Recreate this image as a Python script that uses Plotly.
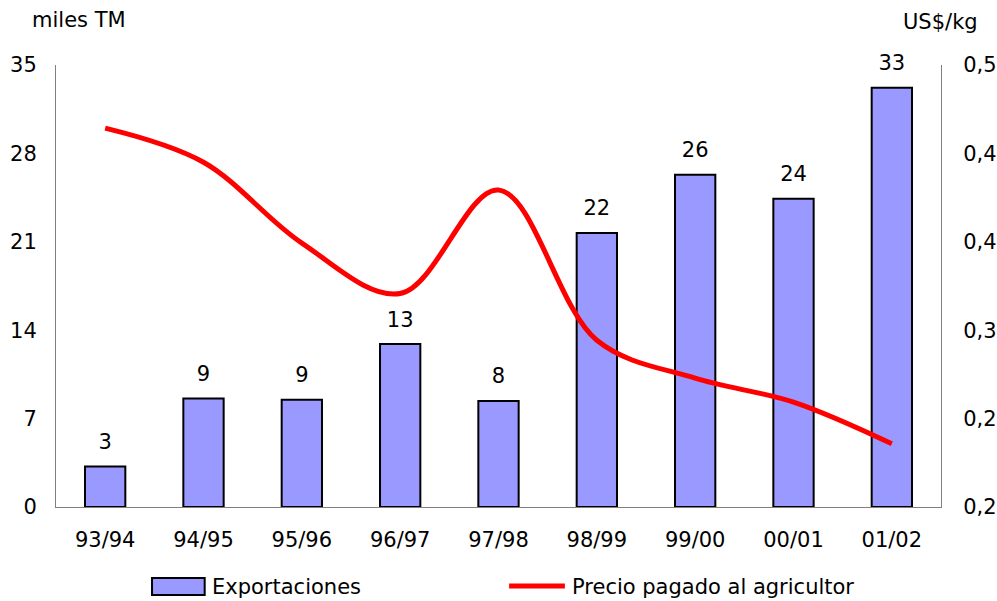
import plotly.graph_objects as go

# Campaign seasons
temporadas = ["93/94", "94/95", "95/96", "96/97", "97/98", "98/99", "99/00", "00/01", "01/02"]

# Exports, thousand tonnes
exportaciones = [3.2, 8.6, 8.5, 12.9, 8.4, 21.7, 26.3, 24.4, 33.2]

# Price paid to the farmer, US$/kg
precio = [0.450, 0.423, 0.359, 0.319, 0.401, 0.282, 0.252, 0.233, 0.200]

# Axis ticks
ticks_izq = [0, 7, 14, 21, 28, 35]
ticks_der = [0.15, 0.22, 0.29, 0.36, 0.43, 0.50]
ticks_der_txt = ["0,2", "0,2", "0,3", "0,4", "0,4", "0,5"]

FONT = "DejaVu Sans"
FS = 21
BAR_COLOR = "#9999FF"
LINE_COLOR = "#FF0000"

fig = go.Figure()

fig.add_trace(go.Bar(
    x=temporadas,
    y=exportaciones,
    name="Exportaciones",
    marker=dict(color=BAR_COLOR, line=dict(color="black", width=2)),
    showlegend=False,
    yaxis="y",
))

# Value labels above each bar
fig.add_trace(go.Scatter(
    x=temporadas,
    y=exportaciones,
    mode="markers+text",
    marker=dict(size=18, opacity=0),
    texttemplate="%{y:.0f}",
    textposition="top center",
    textfont=dict(family=FONT, size=FS, color="black"),
    cliponaxis=False,
    hoverinfo="skip",
    showlegend=False,
    yaxis="y",
))

fig.add_trace(go.Scatter(
    x=temporadas,
    y=precio,
    name="Precio pagado al agricultor",
    mode="lines",
    line=dict(color=LINE_COLOR, width=5, shape="spline", smoothing=1.0),
    showlegend=False,
    yaxis="y2",
))

axis_common = dict(
    showline=True, linecolor="#808080", linewidth=1,
    showgrid=False, zeroline=False,
    ticks="outside", tickcolor="rgba(0,0,0,0)",
    tickfont=dict(family=FONT, size=FS),
)

fig.update_layout(
    width=997,
    height=601,
    paper_bgcolor="white",
    plot_bgcolor="white",
    margin=dict(l=56, r=56, t=65, b=94, autoexpand=False),
    font=dict(family=FONT, size=FS, color="black"),
    bargap=0.59,
    xaxis=dict(range=[-0.5, len(temporadas) - 0.5], ticklen=14, **axis_common),
    yaxis=dict(range=[0, 35], tickvals=ticks_izq, ticklen=14, **axis_common),
    yaxis2=dict(
        range=[0.15, 0.50], tickvals=ticks_der, ticktext=ticks_der_txt,
        overlaying="y", side="right", ticklen=17, **axis_common,
    ),
    showlegend=False,
    annotations=[
        dict(text="miles TM", xref="paper", yref="paper", x=-0.0294, y=1.102,
             xanchor="left", yanchor="middle", showarrow=False,
             font=dict(family=FONT, size=FS)),
        dict(text="US$/kg", xref="paper", yref="paper", x=1.044, y=1.097,
             xanchor="right", yanchor="middle", showarrow=False,
             font=dict(family=FONT, size=FS)),
        # legend labels
        dict(text="Exportaciones", xref="paper", yref="paper", x=0.174, y=-0.181,
             xanchor="left", yanchor="middle", showarrow=False,
             font=dict(family=FONT, size=FS)),
        dict(text="Precio pagado al agricultor", xref="paper", yref="paper",
             x=0.581, y=-0.181, xanchor="left", yanchor="middle", showarrow=False,
             font=dict(family=FONT, size=FS)),
    ],
    shapes=[
        # legend keys
        dict(type="rect", xref="paper", yref="paper",
             x0=0.1085, x1=0.168, y0=-0.199, y1=-0.1606,
             fillcolor=BAR_COLOR, line=dict(color="black", width=2)),
        dict(type="line", xref="paper", yref="paper",
             x0=0.512, x1=0.575, y0=-0.179, y1=-0.179,
             line=dict(color=LINE_COLOR, width=5)),
    ],
)

fig.write_html("out.html")
